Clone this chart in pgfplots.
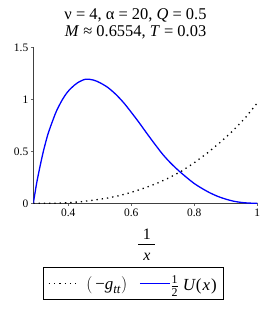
\documentclass[border=0pt]{standalone}
\usepackage{pgfplots}
\pgfplotsset{compat=1.18}
\usepackage{fontspec}
\setmainfont{Liberation Serif}
\definecolor{ublue}{RGB}{0,0,255}
\begin{document}
\begin{tikzpicture}
\useasboundingbox (-33.3bp,-106.7bp) rectangle (233.7bp,203.3bp);
\begin{axis}[
  scale only axis, width=224bp, height=156bp,
  xmin=0.289, xmax=1, ymin=0, ymax=1.5,
  axis x line=bottom, axis y line=left,
  axis line style={-, black!75, line width=0.8pt},
  xtick={0.4,0.6,0.8,1}, xticklabels={0.4,0.6,0.8,1},
  ytick={0,0.5,1,1.5}, yticklabels={0,0.5,1,1.5},
  tick align=outside, major tick length=2.5bp,
  tick style={black!60, line width=0.5pt},
  ticklabel style={font=\fontsize{11.5}{13}\selectfont},
  yticklabel style={xshift=1bp},
  legend columns=2,
  legend style={at={(0.447,-0.41)}, anchor=north, draw=black, line width=0.8pt,
    font=\fontsize{17}{19}\selectfont, inner xsep=5bp, inner ysep=6bp,
    /tikz/every even column/.append style={column sep=10bp}},
  legend image code/.code={\draw[#1] (0bp,0bp) -- (30bp,0bp);},
]
\addplot[black, line width=1.3pt, dash pattern=on 1.3pt off 4pt] coordinates {
(0.289,0) (0.33,0.0) (0.36,0.001) (0.40,0.005) (0.44,0.015) (0.48,0.03)
(0.52,0.048) (0.56,0.072) (0.60,0.105) (0.64,0.145) (0.68,0.19) (0.72,0.245)
(0.76,0.31) (0.80,0.39) (0.84,0.48) (0.88,0.58) (0.92,0.69) (0.96,0.815) (1.0,0.965)
};
\addlegendentry{\hspace{5bp}$\left(\,\mbox{−\itshape g}_{\mbox{\fontsize{13}{14}\selectfont\itshape tt}}\right)$}
\addplot[ublue, line width=1.3pt, smooth] coordinates {
(0.289,0) (0.295,0.11) (0.30,0.2) (0.31,0.35) (0.321,0.5) (0.335,0.66) (0.35,0.79)
(0.363,0.89) (0.38,0.99) (0.395,1.06) (0.41,1.11) (0.43,1.16) (0.455,1.193)
(0.48,1.185) (0.50,1.16) (0.525,1.115) (0.55,1.05) (0.575,0.97) (0.60,0.875)
(0.625,0.775) (0.65,0.67) (0.675,0.568) (0.70,0.47) (0.725,0.387) (0.75,0.315)
(0.775,0.25) (0.80,0.19) (0.825,0.142) (0.85,0.10) (0.875,0.066) (0.90,0.04)
(0.925,0.02) (0.95,0.008) (0.975,0.002) (1,0)
};
\addlegendentry{\hspace{-2bp}$\frac{\mbox{\fontsize{12}{13}\selectfont 1}}{\mbox{\fontsize{12}{13}\selectfont 2}}$\hspace{4bp}\textit{U}(\hspace{1bp}\textit{x}\hspace{1bp})}
\end{axis}
% title lines
\node[anchor=base, font=\fontsize{16.5}{18}\selectfont, inner sep=0pt] at (102.2bp,183.3bp)
  {ν = 4, α = 20, \textit{Q} = 0.5};
\node[anchor=base, font=\fontsize{16.5}{18}\selectfont, inner sep=0pt] at (102.2bp,166.3bp)
  {\textit{M} ≈ 0.6554, \textit{T} = 0.03};
% x label as a fraction 1/x
\node[anchor=base, font=\fontsize{16}{18}\selectfont, inner sep=0pt] at (113.5bp,-36.5bp) {1};
\draw[line width=0.7pt] (105bp,-41.5bp) -- (122bp,-41.5bp);
\node[anchor=base, font=\fontsize{16}{18}\selectfont\itshape, inner sep=0pt] at (113.5bp,-57bp) {x};
\end{tikzpicture}
\end{document}
